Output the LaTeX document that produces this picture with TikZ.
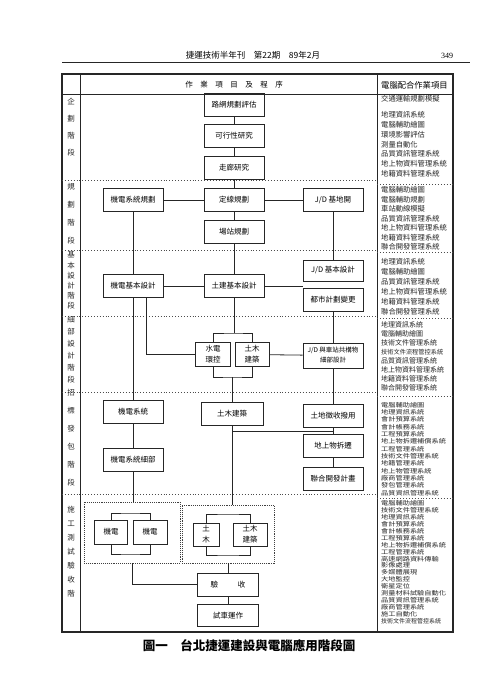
\documentclass[tikz,border=0pt]{standalone}
\usepackage{fontspec}
\setmainfont{Liberation Serif}
\newfontfamily\cjk{Noto Sans CJK TC}
\newfontfamily\cjkwide[FakeStretch=1.2]{Noto Sans CJK TC}
\usetikzlibrary{positioning}

\begin{document}
\begin{tikzpicture}[x=1pt, y=-1pt]
    \tikzset{box/.style = {shape=rectangle, draw=black!85, line width=0.9pt, minimum width=60pt, minimum height=23pt, inner sep=1pt, align=center, font=\cjk\fontsize{7.5}{9}\selectfont}}
    \tikzset{smallbox/.style = {box, minimum width=34pt, minimum height=24pt, font=\cjk\fontsize{7.5}{11}\selectfont}}
    \tikzset{group/.style = {shape=rectangle, draw=black!75, densely dotted, line width=0.9pt, inner sep=0pt}}
    \tikzset{stage/.style = {align=center, inner sep=0pt, text=black!85}}
    \tikzset{items/.style = {anchor=north west, align=left, inner sep=0pt, text=black!85}}
    \tikzset{link/.style = {-, draw=black!85, line width=0.8pt}}
    \tikzset{rowsep/.style = {draw=black!70, dotted, line width=0.9pt}}

    \fill[white] (0,0) rectangle (480,696);
    \useasboundingbox (0,0) rectangle (480,696);

    \node[font=\cjk\fontsize{8.5}{10}\selectfont] (title) at (253,55) {捷運技術半年刊　第22期　89年2月};
    \node[font=\fontsize{8}{10}\selectfont] (page) at (447,56) {349};
    \draw[black!85, line width=0.8pt] (62,62) -- (470,62);

    \draw[black!85, line width=1.1pt] (62,74) rectangle (453,632);
    \draw[black!85, line width=0.9pt] (80,74) -- (80,632);
    \draw[black!85, line width=0.9pt] (377,74) -- (377,632);
    \draw[black!85, line width=0.9pt] (62,94) -- (453,94);
    \node[font=\cjk\fontsize{7.5}{9}\selectfont] (head) at (234,85) {作　業　項　目　及　程　序};
    \node[font=\cjk\fontsize{8.3}{10}\selectfont, anchor=west, inner sep=0pt] (headr) at (381,85) {電腦配合作業項目};

    \draw[rowsep] (62,180) -- (377,180);
    \draw[rowsep] (377,184) -- (453,184);
    \draw[rowsep] (62,250) -- (377,250);
    \draw[rowsep] (377,252) -- (453,252);
    \draw[rowsep] (62,316) -- (377,316);
    \draw[rowsep] (377,318) -- (453,318);
    \draw[rowsep] (62,392) -- (377,392);
    \draw[rowsep] (377,396) -- (453,396);
    \draw[rowsep] (62,494) -- (377,494);
    \draw[rowsep] (377,498) -- (453,498);

    \node[stage, font=\cjk\fontsize{7.5}{17}\selectfont] (S1) at (71,127.5) {企\\劃\\階\\段};
    \node[stage, font=\cjk\fontsize{7.5}{18}\selectfont] (S2) at (71,214) {規\\劃\\階\\段};
    \node[stage, font=\cjk\fontsize{7.5}{10.2}\selectfont] (S3) at (71,280.5) {基\\本\\設\\計\\階\\段};
    \node[stage, font=\cjk\fontsize{7.5}{12}\selectfont] (S4) at (71,350) {細\\部\\設\\計\\階\\段};
    \node[stage, font=\cjk\fontsize{7.5}{18}\selectfont] (S5) at (71,438) {招\\標\\發\\包\\階\\段};
    \node[stage, font=\cjk\fontsize{7.5}{14}\selectfont] (S6) at (71,552) {施\\工\\測\\試\\驗\\收\\階};

    \node[box] (A1) at (234,104.5) {路網規劃評估};
    \node[box] (A2) at (234,136) {可行性研究};
    \node[box] (A3) at (234,167.5) {走廊研究};
    \node[box] (B1) at (133,200) {機電系統規劃};
    \node[box] (B2) at (234,200) {定線規劃};
    \node[box] (B3) at (333,200) {J/D 基地開};
    \node[box] (B4) at (234,231.5) {場站規劃};
    \node[box] (C1) at (133,286) {機電基本設計};
    \node[box] (C2) at (234,286) {土建基本設計};
    \node[box, minimum height=21pt] (C3) at (333,270.5) {J/D 基本設計};
    \node[box] (C4) at (333,299.5) {都市計劃變更};
    \node[smallbox, minimum width=35pt] (D1) at (213,354.5) {水電\\環控};
    \node[smallbox] (D2) at (252,354.5) {土木\\建築};
    \node[box, minimum height=25pt, font=\cjk\fontsize{6.5}{10}\selectfont] (D3) at (333,355.5) {J/D 與車站共構物\\細部設計};
    \node[box] (E1) at (133,411.5) {機電系統};
    \node[box, minimum width=62pt] (E2) at (232,414) {土木建築};
    \node[box] (E3) at (333,415.5) {土地徵收撥用};
    \node[box] (E4) at (333,446) {地上物拆遷};
    \node[box] (E5) at (333,478.5) {聯合開發計畫};
    \node[box] (E6) at (133,460) {機電系統細部};

    \node[group, minimum width=96pt, minimum height=61pt] (GL) at (132,532.5) {};
    \node[group, minimum width=92pt, minimum height=58pt] (GR) at (228,534) {};
    \node[smallbox, minimum width=33pt] (F1) at (111,532) {機電};
    \node[smallbox] (F2) at (150,532) {機電};
    \node[smallbox, minimum width=26pt, minimum height=23pt] (F3) at (206,534.5) {土\\木};
    \node[smallbox, minimum height=23pt] (F4) at (250,534.5) {土木\\建築};
    \node[box, minimum width=61pt] (F5) at (228,584.5) {驗\hspace{20pt}收};
    \node[box, minimum width=61pt, minimum height=22pt] (F6) at (228,615.5) {試車運作};

    \node[items, font=\cjk\fontsize{7.3}{9.8}\selectfont, anchor=west] (L0) at (381,99) {交通運輸規劃模擬};
    \node[items, font=\cjk\fontsize{7.3}{9.8}\selectfont] (L1) at (381,111.4) {地理資訊系統\\電腦輔助繪圖\\環境影響評估\\測量自動化\\品質資訊管理系統\\地上物資料管理系統\\地籍資料管理系統};
    \node[items, font=\cjk\fontsize{7.3}{9.5}\selectfont] (L2) at (381,186.4) {電腦輔助繪圖\\電腦輔助規劃\\車站動線模擬\\品質資訊管理系統\\地上物資料管理系統\\地籍資料管理系統\\聯合開發管理系統};
    \node[items, font=\cjk\fontsize{7.3}{10}\selectfont] (L3) at (381,258.4) {地理資訊系統\\電腦輔助繪圖\\品質資訊管理系統\\地上物資料管理系統\\地籍資料管理系統\\聯合開發管理系統};
    \node[items, font=\cjk\fontsize{7}{9}\selectfont] (L4) at (381,321.5) {地理資訊系統\\電腦輔助繪圖\\技術文件管理系統\\{\fontsize{6.2}{9}\selectfont 技術文件流程管控系統}\\品質資訊管理系統\\地上物資料管理系統\\地籍資料管理系統\\聯合開發管理系統};
    \node[items, font=\cjkwide\fontsize{6}{7.33}\selectfont] (L5) at (381,402) {電腦輔助繪圖\\地理資訊系統\\會計預算系統\\會計帳務系統\\工程預算系統\\地上物拆遷補償系統\\工程管理系統\\技術文件管理系統\\地籍管理系統\\地上物管理系統\\廠商管理系統\\發包管理系統\\品質資訊管理系統};
    \node[items, font=\cjkwide\fontsize{6}{6.9}\selectfont] (L6) at (381,500.5) {電腦輔助繪圖\\技術文件管理系統\\地理資訊系統\\會計預算系統\\會計帳務系統\\工程預算系統\\地上物拆遷補償系統\\工程管理系統\\高速網路資料傳輸\\影像處理\\多媒體展現\\大地監控\\衛星定位\\測量材料試驗自動化\\品質資訊管理系統\\廠商管理系統\\施工自動化\\{\cjk\fontsize{6}{6.9}\selectfont 技術文件流程管控系統}};

    \coordinate (Dt) at (234,333);
    \coordinate (Db) at (232,377);
    \coordinate (Eb) at (232,431);
    \coordinate (Fa) at (130,513);
    \coordinate (Fb) at (130,554);
    \coordinate (Fc) at (228,514);
    \coordinate (Fd) at (228,555);

    \draw[link] (A1) -- (A2);
    \draw[link] (A2) -- (A3);
    \draw[link] (A3) -- (B2);
    \draw[link] (B1) -- (B2);
    \draw[link] (B2) -- (B3);
    \draw[link] (B2) -- (B4);
    \draw[link] (B4) -- (C2);
    \draw[link] (B3) -- (C3);
    \draw[link] (B1) -- (C1);
    \draw[link] (C1) -- (C2);
    \draw[link] (C2) -- (C2 -| C4.west);
    \draw[link] (C4) -- (D3);
    \draw[link] (C2) -- (Dt);
    \draw[link] (D1) |- (Dt) -| (D2);
    \draw[link] (D1) |- (Db) -| (D2);
    \draw[link] ([xshift=13pt]C1.south) |- (D1);
    \draw[link] (D2) -- (D3);
    \draw[link] (D3) -- (E3);
    \draw[link] (C1) -- (E1);
    \draw[link] (Db) -- (E2);
    \draw[link] (E3) -- (E4);
    \draw[link] (E4) -- (E5);
    \draw[link] (Eb) -- (Eb -| E4);
    \draw[link] (E1) -- (E6);
    \draw[link] (E6) -- (E6 |- GL.north);
    \draw[link] (E2) -- (E2 |- GR.north);
    \draw[link] (F1) |- (Fa) -| (F2);
    \draw[link] (F1) |- (Fb) -| (F2);
    \draw[link] (F3) |- (Fc) -| (F4);
    \draw[link] (F3) |- (Fd) -| (F4);
    \draw[link] (GL) |- (F5);
    \draw[link] (GR) -- (F5);
    \draw[link] (F5) -- (F6);

    \node[font=\cjk\bfseries\fontsize{12.5}{14}\selectfont] (cap) at (249,646) {圖一　台北捷運建設與電腦應用階段圖};
\end{tikzpicture}
\end{document}
